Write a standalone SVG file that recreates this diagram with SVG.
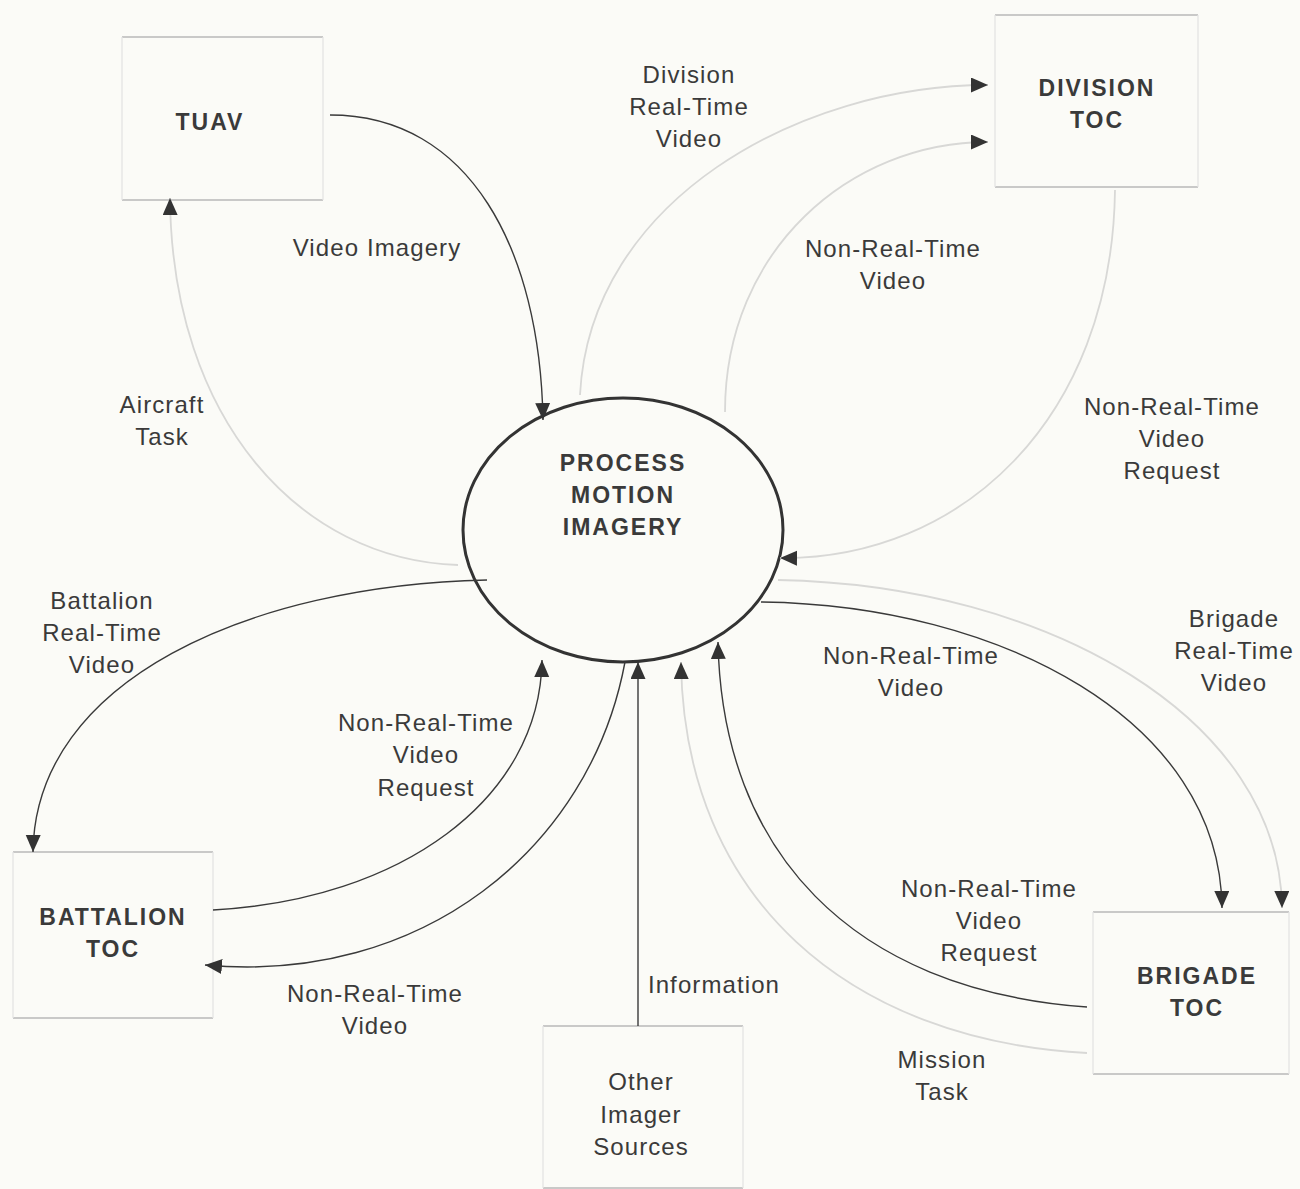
<svg xmlns="http://www.w3.org/2000/svg" width="1300" height="1189" viewBox="0 0 1300 1189">
  <style>
    .lbl { font-family: "Liberation Sans", Arial, sans-serif; font-size: 24px; letter-spacing: 1.1px; fill: #3a3a3a; text-anchor: middle; }
    .bold { font-family: "Liberation Sans", Arial, sans-serif; font-size: 23px; font-weight: bold; letter-spacing: 2px; fill: #3a3a3a; text-anchor: middle; }
    .edge-h { stroke: #b8b8b8; stroke-width: 1.3; fill: none; }
    .edge-v { stroke: #e4e4e4; stroke-width: 1.3; fill: none; }
    .dark { stroke: #3a3a3a; stroke-width: 1.4; fill: none; marker-end: url(#arrow); }
    .light { stroke: #d8d8d6; stroke-width: 1.8; fill: none; marker-end: url(#arrow); }
  </style>
  <defs>
    <marker id="arrow" markerUnits="userSpaceOnUse" markerWidth="18" markerHeight="16" refX="17" refY="7.5" orient="auto">
      <path d="M0,0 L17,7.5 L0,15 z" fill="#333"/>
    </marker>
  </defs>

  <rect x="0" y="0" width="1300" height="1189" fill="#fbfbf7"/>

  <!-- external entities -->
  <g id="tuav">
    <line class="edge-h" x1="122" y1="37" x2="323" y2="37"/>
    <line class="edge-h" x1="122" y1="200" x2="323" y2="200"/>
    <line class="edge-v" x1="122" y1="37" x2="122" y2="200"/>
    <line class="edge-v" x1="323" y1="37" x2="323" y2="200"/>
    <text class="bold" x="210" y="130">TUAV</text>
  </g>

  <g id="division-toc">
    <line class="edge-h" x1="995" y1="15" x2="1198" y2="15"/>
    <line class="edge-h" x1="995" y1="187" x2="1198" y2="187"/>
    <line class="edge-v" x1="995" y1="15" x2="995" y2="187"/>
    <line class="edge-v" x1="1198" y1="15" x2="1198" y2="187"/>
    <text class="bold" x="1097" y="96">DIVISION</text>
    <text class="bold" x="1097" y="128">TOC</text>
  </g>

  <g id="battalion-toc">
    <line class="edge-h" x1="13" y1="852" x2="213" y2="852"/>
    <line class="edge-h" x1="13" y1="1018" x2="213" y2="1018"/>
    <line class="edge-v" x1="13" y1="852" x2="13" y2="1018"/>
    <line class="edge-v" x1="213" y1="852" x2="213" y2="1018"/>
    <text class="bold" x="113" y="925">BATTALION</text>
    <text class="bold" x="113" y="957">TOC</text>
  </g>

  <g id="brigade-toc">
    <line class="edge-h" x1="1093" y1="912" x2="1289" y2="912"/>
    <line class="edge-h" x1="1093" y1="1074" x2="1289" y2="1074"/>
    <line class="edge-v" x1="1093" y1="912" x2="1093" y2="1074"/>
    <line class="edge-v" x1="1289" y1="912" x2="1289" y2="1074"/>
    <text class="bold" x="1197" y="984">BRIGADE</text>
    <text class="bold" x="1197" y="1016">TOC</text>
  </g>

  <g id="other-sources">
    <line class="edge-h" x1="543" y1="1026" x2="743" y2="1026"/>
    <line class="edge-h" x1="543" y1="1188" x2="743" y2="1188"/>
    <line class="edge-v" x1="543" y1="1026" x2="543" y2="1188"/>
    <line class="edge-v" x1="743" y1="1026" x2="743" y2="1188"/>
    <text class="lbl" x="641" y="1090">Other</text>
    <text class="lbl" x="641" y="1123">Imager</text>
    <text class="lbl" x="641" y="1155">Sources</text>
  </g>

  <!-- central process -->
  <g id="process">
    <ellipse cx="623" cy="530" rx="160" ry="132" fill="none" stroke="#333" stroke-width="3"/>
    <text class="bold" x="623" y="471">PROCESS</text>
    <text class="bold" x="623" y="503">MOTION</text>
    <text class="bold" x="623" y="535">IMAGERY</text>
  </g>

  <!-- data flows -->
  <g id="connectors">
    <path class="light" d="M458,565 C300,560 172,420 170,198"/>
    <path class="light" d="M580,395 C590,200 800,85 988,85"/>
    <path class="light" d="M725,412 C725,250 850,142 988,142"/>
    <path class="light" d="M1115,190 C1112,420 960,560 780,558"/>
    <path class="light" d="M778,580 C1050,585 1280,720 1282,908"/>
    <path class="light" d="M1087,1053 C850,1040 684,900 681,662"/>

    <path class="dark" d="M330,115 C470,115 540,250 543,420"/>
    <path class="dark" d="M761,602 C1000,605 1220,720 1222,908"/>
    <path class="dark" d="M1087,1007 C850,990 722,850 718,642"/>
    <path class="dark" d="M638,1026 L638,662"/>
    <path class="dark" d="M213,910 C400,900 540,800 542,660"/>
    <path class="dark" d="M625,662 C590,850 420,985 205,965"/>
    <path class="dark" d="M487,580 C250,585 35,680 33,852"/>
  </g>

  <!-- flow labels -->
  <g id="labels">
    <text class="lbl" x="377" y="256">Video Imagery</text>
    <text class="lbl" x="162" y="413">Aircraft</text>
    <text class="lbl" x="162" y="445">Task</text>
    <text class="lbl" x="689" y="83">Division</text>
    <text class="lbl" x="689" y="115">Real-Time</text>
    <text class="lbl" x="689" y="147">Video</text>
    <text class="lbl" x="893" y="257">Non-Real-Time</text>
    <text class="lbl" x="893" y="289">Video</text>
    <text class="lbl" x="1172" y="415">Non-Real-Time</text>
    <text class="lbl" x="1172" y="447">Video</text>
    <text class="lbl" x="1172" y="479">Request</text>
    <text class="lbl" x="102" y="609">Battalion</text>
    <text class="lbl" x="102" y="641">Real-Time</text>
    <text class="lbl" x="102" y="673">Video</text>
    <text class="lbl" x="426" y="731">Non-Real-Time</text>
    <text class="lbl" x="426" y="763">Video</text>
    <text class="lbl" x="426" y="796">Request</text>
    <text class="lbl" x="911" y="664">Non-Real-Time</text>
    <text class="lbl" x="911" y="696">Video</text>
    <text class="lbl" x="1234" y="627">Brigade</text>
    <text class="lbl" x="1234" y="659">Real-Time</text>
    <text class="lbl" x="1234" y="691">Video</text>
    <text class="lbl" x="989" y="897">Non-Real-Time</text>
    <text class="lbl" x="989" y="929">Video</text>
    <text class="lbl" x="989" y="961">Request</text>
    <text class="lbl" x="714" y="993">Information</text>
    <text class="lbl" x="375" y="1002">Non-Real-Time</text>
    <text class="lbl" x="375" y="1034">Video</text>
    <text class="lbl" x="942" y="1068">Mission</text>
    <text class="lbl" x="942" y="1100">Task</text>
  </g>
</svg>
